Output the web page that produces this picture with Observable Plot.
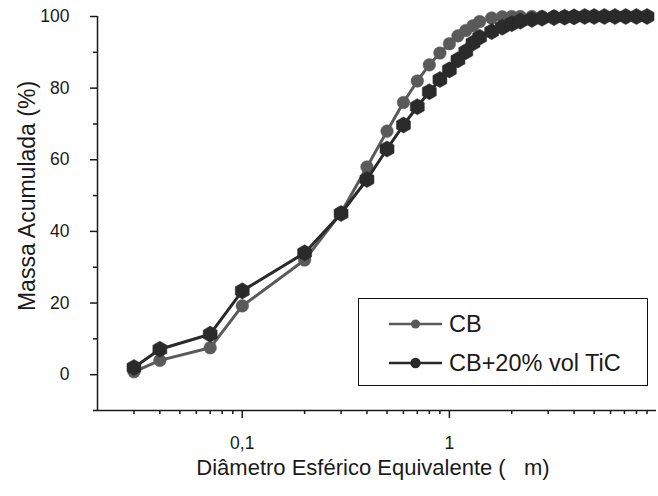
<!DOCTYPE html>
<html>
<head>
<meta charset="utf-8">
<script src="https://cdn.jsdelivr.net/npm/d3@7"></script>
<script src="https://cdn.jsdelivr.net/npm/@observablehq/plot@0.6"></script>
<style>
  html, body { margin: 0; padding: 0; background: #fff; }
  #wrap { position: relative; width: 658px; height: 496px; font-family: "Liberation Sans", Arial, sans-serif; }
  #legend { position: absolute; left: 358px; top: 298px; width: 288px; height: 86px; border: 1.5px solid #111; background: #fff; box-sizing: content-box; }
  .row { position: absolute; left: 0; height: 30px; display: flex; align-items: center; }
  .row span { font-size: 23.5px; color: #1a1a1a; margin-left: 6px; }
</style>
</head>
<body>
<div id="wrap"></div>
<script>
// Data
const diam = [0.03, 0.04, 0.07, 0.1, 0.2, 0.3, 0.4, 0.5, 0.6, 0.7, 0.8, 0.9, 1.0, 1.1, 1.2, 1.3, 1.4, 1.6, 1.8, 2.0, 2.2, 2.5, 2.8, 3.2, 3.6, 4.0, 4.5, 5.0, 5.6, 6.3, 7.1, 8.0, 9.0];
const cbValues = [0.8, 4.0, 7.5, 19.2, 32, 45.2, 58, 68, 76, 82, 86.5, 89.8, 92.4, 94.6, 96.1, 97.4, 98.6, 99.6, 99.9, 100, 100, 100, 100, 100, 100, 100, 100, 100, 100, 100, 100, 100, 100];
const ticValues = [2.0, 7.1, 11.3, 23.4, 34, 45, 54.5, 63, 69.7, 74.8, 79, 82.4, 85.1, 87.9, 90.2, 92.6, 94.2, 95.8, 97, 98, 98.7, 99.2, 99.5, 99.7, 99.8, 99.9, 100, 100, 100, 100, 100, 100, 100];
const seriesNames = ["CB", "CB+20% vol TiC"];
const xMajorTicks = [0.1, 1];
const xMajorLabels = ["0,1", "1"];
const xMinorTicks = [0.03, 0.04, 0.05, 0.06, 0.07, 0.08, 0.09, 0.2, 0.3, 0.4, 0.5, 0.6, 0.7, 0.8, 0.9, 2, 3, 4, 5, 6, 7, 8, 9];
const yMajorTicks = [0, 20, 40, 60, 80, 100];
const yMinorTicks = [-10, 10, 30, 50, 70, 90];
const xTitle = "Diâmetro Esférico Equivalente (   m)";
const yTitle = "Massa Acumulada (%)";

const cbData = diam.map((d, i) => ({x: d, y: cbValues[i]}));
const ticData = diam.map((d, i) => ({x: d, y: ticValues[i]}));

const grayC = "#5a5a5a";
const darkC = "#2a2a2a";

const chart = Plot.plot({
  width: 658,
  height: 496,
  marginLeft: 97,
  marginRight: 2,
  marginTop: 16,
  marginBottom: 86,
  style: {fontFamily: "'Liberation Sans', Arial, sans-serif", color: "#1a1a1a", background: "#fff"},
  x: {type: "log", domain: [0.02, 10]},
  y: {domain: [-10, 100]},
  marks: [
    Plot.ruleX([0.02], {stroke: "#1a1a1a", strokeWidth: 1.5}),
    Plot.ruleY([-10], {stroke: "#1a1a1a", strokeWidth: 1.5}),
    Plot.axisX(xMajorTicks, {tickSize: 8, tickPadding: 18, fontSize: 17.5, stroke: "#1a1a1a", strokeWidth: 1.5,
      tickFormat: (d) => xMajorLabels[xMajorTicks.indexOf(d)], label: null}),
    Plot.axisX(xMinorTicks, {tickSize: 4, text: null, stroke: "#1a1a1a", strokeWidth: 1.5, label: null}),
    Plot.axisY(yMajorTicks, {tickSize: 7, tickPadding: 21, fontSize: 17.5, stroke: "#1a1a1a", strokeWidth: 1.5, label: null}),
    Plot.axisY(yMinorTicks, {tickSize: 4, text: null, stroke: "#1a1a1a", strokeWidth: 1.5, label: null}),
    Plot.line(cbData, {x: "x", y: "y", stroke: grayC, strokeWidth: 3}),
    Plot.dot(cbData, {x: "x", y: "y", r: 6.3, fill: grayC, stroke: grayC, strokeWidth: 0.5}),
    Plot.line(ticData, {x: "x", y: "y", stroke: darkC, strokeWidth: 3}),
    Plot.dot(ticData, {x: "x", y: "y", r: 7, symbol: "hexagon", fill: darkC, stroke: darkC, strokeWidth: 0.5})
  ]
});

const svg = d3.select(chart);
svg.append("text")
  .attr("x", 373).attr("y", 475)
  .attr("text-anchor", "middle")
  .attr("font-size", 22)
  .attr("fill", "#1a1a1a")
  .style("white-space", "pre")
  .attr("xml:space", "preserve")
  .text(xTitle);
svg.append("text")
  .attr("transform", "translate(35,196) rotate(-90)")
  .attr("text-anchor", "middle")
  .attr("font-size", 23)
  .attr("fill", "#1a1a1a")
  .text(yTitle);

const wrap = document.getElementById("wrap");
wrap.appendChild(chart);

// Legend
const legend = document.createElement("div");
legend.id = "legend";
const colors = [grayC, darkC];
seriesNames.forEach((name, i) => {
  const row = document.createElement("div");
  row.className = "row";
  row.style.top = (i === 0 ? 10 : 49) + "px";
  row.style.left = "29px";
  const s = d3.create("svg").attr("width", 55).attr("height", 30);
  s.append("line").attr("x1", 1).attr("x2", 54).attr("y1", 15).attr("y2", 15)
    .attr("stroke", colors[i]).attr("stroke-width", 2.5);
  s.append("path").attr("transform", "translate(27.5,15)")
    .attr("d", d3.symbol(i === 0 ? d3.symbolCircle : d3.symbolHexagon ?? d3.symbolCircle, i === 0 ? 65 : 85)())
    .attr("fill", colors[i]);
  row.appendChild(s.node());
  const t = document.createElement("span");
  t.textContent = name;
  row.appendChild(t);
  legend.appendChild(row);
});
wrap.appendChild(legend);
</script>
</body>
</html>
